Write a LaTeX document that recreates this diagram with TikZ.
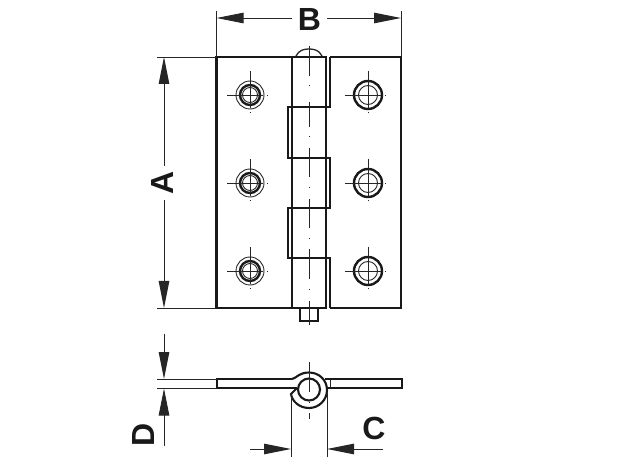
\documentclass[tikz,border=0pt]{standalone}
\usepackage{fontspec}
\setmainfont{Liberation Sans}
\usetikzlibrary{arrows.meta}
\tikzset{
  outl/.style={line width=2.1pt,line join=miter,draw=black!90},
  medl/.style={line width=1.3pt,draw=black!85},
  thinl/.style={line width=0.9pt,draw=black!85},
  dimln/.style={line width=0.9pt,draw=black!85},
  dimtip/.style={dimln,-{Triangle[length=27pt,width=10.5pt]}},
  dimlabel/.style={font=\bfseries\fontsize{32}{32}\selectfont,inner sep=0pt,text=black!90},
  pics/holeA/.style={code={
    \draw[thinl] (0,0) circle (14);
    \draw[line width=2.4pt,draw=black!90] (0,0) circle (10);
    \draw[thinl] (0,0) circle (7.5);
    \draw[thinl] (-23,0)--(13,0) (17,0)--(18,0);
    \draw[thinl] (0,-24)--(0,13) (0,17)--(0,18);
  }},
  pics/holeB/.style={code={
    \draw[line width=2.4pt,draw=black!90] (0,0) circle (14);
    \draw[thinl] (0,0) circle (9.5);
    \draw[thinl] (-23,0)--(13,0) (17,0)--(18,0);
    \draw[thinl] (0,-24)--(0,13) (0,17)--(0,18);
  }}
}
\begin{document}
\begin{tikzpicture}[x=1pt,y=-1pt]
\useasboundingbox (0,0) rectangle (619,465);
% plates
\draw[outl] (292,57)--(216.5,57)--(216.5,308)--(292,308);
\draw[outl] (330,57)--(401,57)--(401,308)--(330,308);
% barrel dome and pin
\draw[medl] (296,56) .. controls (299,50) and (304,49) .. (309,49) .. controls (314,49) and (319,50) .. (322,56);
\draw[outl] (300,308)--(300,321)--(318,321)--(318,308);
% barrel sides
\draw[outl] (292,57)--(292,308)--(326,308)--(326,57)--cycle;
% knuckles
\draw[outl] (330,57)--(330,107)--(288,107)--(288,158)--(330,158)--(330,208)--(288,208)--(288,258)--(330,258)--(330,308);
\draw[outl] (292,107)--(292,158) (292,208)--(292,258);
% barrel centre line
\draw[thinl] (309,46)--(309,76) (309,85.5)--(309,86.5) (309,102)--(309,127) (309,136.5)--(309,137.5)
  (309,148)--(309,177) (309,187.5)--(309,188.5) (309,199)--(309,228) (309,238.5)--(309,239.5)
  (309,249)--(309,279) (309,289.5)--(309,290.5) (309,301)--(309,325);
% screw holes
\foreach \yy in {95,183,271}{
  \pic at (250,\yy) {holeA};
  \pic at (368,\yy) {holeB};
}
% dimension B
\node[dimlabel,minimum width=35pt] (B) at (309.5,19) {B};
\coordinate (bl) at (216.5,18);
\coordinate (br) at (401,18);
\draw[thinl] (216.5,11)--(216.5,57) (401,11)--(401,57);
\draw[dimtip] (B.west|-bl)--(bl);
\draw[dimtip] (B.east|-br)--(br);
% dimension A
\node[dimlabel,rotate=90,minimum width=34pt] (A) at (162,183) {A};
\coordinate (at) at (164,57);
\coordinate (ab) at (164,308);
\coordinate (atb) at (164,166);
\coordinate (abb) at (164,200);
\draw[thinl] (157,57)--(216,57) (157,308)--(216,308);
\draw[dimtip] (atb)--(at);
\draw[dimtip] (abb)--(ab);
% side view leaves
\draw[outl] (292,379)--(217,379)--(217,388)--(297,388);
\draw[outl] (325,379)--(402,379)--(402,388)--(326,388);
\draw[thinl] (330,379)--(330,388);
% curl
\draw[outl] (292,379) .. controls (296,378.5) and (299,372.5) .. (309,372.5)
  .. controls (319,372.5) and (327,380) .. (327,390)
  .. controls (327,400) and (319,408) .. (309,408)
  .. controls (299,408) and (292,401) .. (291,394)
  -- (297,388);
\draw[outl] (309,389.5) circle (11);
% side centre line
\draw[thinl] (309,362)--(309,392) (309,401.5)--(309,402.5) (309,413)--(309,419);
% dimension C
\node[dimlabel] (C) at (374,428) {C};
\coordinate (cl) at (291,449);
\coordinate (cr) at (327,449);
\coordinate (cla) at (250,449);
\coordinate (cra) at (383,449);
\draw[thinl] (291,394)--(291,457) (327,392)--(327,457);
\draw[dimtip] (cla)--(cl);
\draw[dimtip] (cra)--(cr);
% dimension D
\node[dimlabel,rotate=90] (D) at (143,435) {D};
\coordinate (dt) at (164,379);
\coordinate (db) at (164,388.5);
\coordinate (dta) at (164,334);
\coordinate (dba) at (164,446);
\draw[thinl] (157,379)--(217,379) (157,388)--(217,388);
\draw[dimtip] (dta)--(dt);
\draw[dimtip] (dba)--(db);
\end{tikzpicture}
\end{document}
